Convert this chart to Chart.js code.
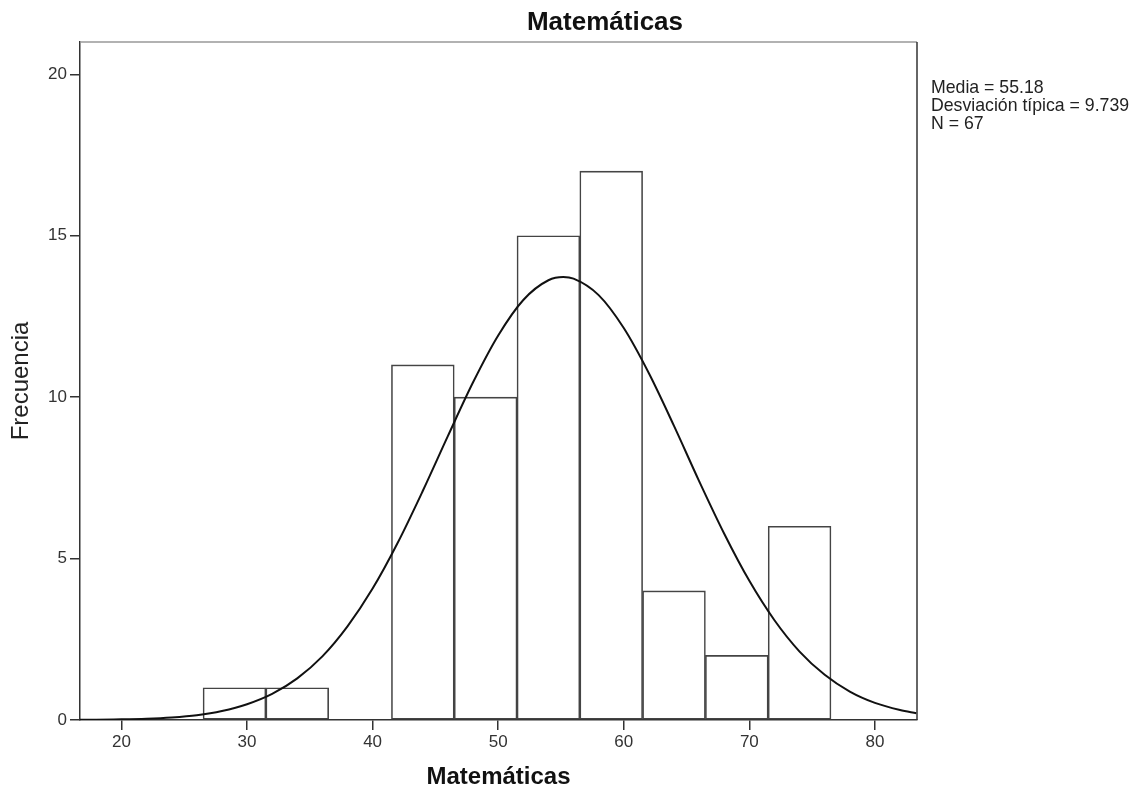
<!DOCTYPE html>
<html>
<head>
<meta charset="utf-8">
<script src="https://cdn.jsdelivr.net/npm/chart.js@4.4.0/dist/chart.umd.min.js"></script>
<style>
    body { margin: 0; background: #fff; }
    #wrap { width: 1138px; height: 795px; position: relative; }
</style>
</head>
<body>
<div id="wrap"><canvas id="histChart"></canvas></div>
<script>
// Histogram bins (centre of each 5-point bin) and their counts
const binCenters = [29, 34, 44, 49, 54, 59, 64, 69, 74];
const binCounts = [1, 1, 11, 10, 15, 17, 4, 2, 6];

// Normal curve
const curveX = [16.7, 18, 20, 22, 24, 26, 28, 30, 32, 34, 36, 38, 40, 42, 44, 46, 48, 50, 52, 54, 55.18, 56, 58, 60, 62, 64, 66, 68, 70, 72, 74, 76, 78, 80, 82, 83.3];
const curveY = [0.01, 0.01, 0.02, 0.04, 0.08, 0.15, 0.28, 0.49, 0.81, 1.29, 1.97, 2.90, 4.07, 5.49, 7.10, 8.80, 10.46, 11.91, 13.01, 13.62, 13.72, 13.67, 13.16, 12.14, 10.74, 9.11, 7.40, 5.77, 4.31, 3.09, 2.12, 1.40, 0.88, 0.53, 0.31, 0.21];

const xTicks = [20, 30, 40, 50, 60, 70, 80];
const yTicks = [0, 5, 10, 15, 20];

const chartTitle = 'Matemáticas';
const statsLines = ['Media = 55.18', 'Desviación típica = 9.739', 'N = 67'];

const fontFamily = "Arial, 'Liberation Sans', sans-serif";
const axisColor = '#333';

const frameAndText = {
    id: 'frameAndText',
    afterDraw(chart) {
        const ctx = chart.ctx;
        const a = chart.chartArea;
        ctx.save();
        // top and right frame lines
        ctx.lineWidth = 1.5;
        ctx.strokeStyle = '#999';
        ctx.beginPath();
        ctx.moveTo(a.left, a.top);
        ctx.lineTo(a.right, a.top);
        ctx.stroke();
        ctx.strokeStyle = axisColor;
        ctx.beginPath();
        ctx.moveTo(a.right, a.top);
        ctx.lineTo(a.right, a.bottom);
        ctx.stroke();

        ctx.fillStyle = '#111';
        ctx.font = `bold 26px ${fontFamily}`;
        ctx.textAlign = 'center';
        ctx.textBaseline = 'alphabetic';
        ctx.fillText(chartTitle, 605, 30);

        ctx.fillStyle = '#222';
        ctx.font = `17.7px ${fontFamily}`;
        ctx.textAlign = 'left';
        statsLines.forEach((line, i) => {
            ctx.fillText(line, 931, 93 + i * 18);
        });
        ctx.restore();
    }
};

const histElement = document.getElementById('histChart').getContext('2d');
const histChart = new Chart(histElement, {
    type: 'bar',
    data: {
        datasets: [
            {
                type: 'line',
                label: 'Normal',
                data: curveX.map((x, i) => ({x: x, y: curveY[i]})),
                borderColor: '#111',
                borderWidth: 2,
                pointRadius: 0,
                cubicInterpolationMode: 'monotone',
                fill: false,
                order: 0,
            },
            {
                label: 'Frecuencia',
                data: binCenters.map((x, i) => ({x: x, y: binCounts[i]})),
                backgroundColor: '#fff',
                borderColor: '#444',
                borderWidth: 1.6,
                borderSkipped: false,
                barPercentage: 1,
                categoryPercentage: 1,
                order: 1,
            }
        ]
    },
    options: {
        responsive: true,
        maintainAspectRatio: false,
        animation: false,
        layout: {
            padding: {top: 42, right: 221, left: 0, bottom: 0}
        },
        scales: {
            x: {
                type: 'linear',
                min: 16.7,
                max: 83.35,
                offset: false,
                afterFit: (scale) => { scale.height = 75; },
                afterBuildTicks: (scale) => { scale.ticks = xTicks.map(v => ({value: v})); },
                ticks: {
                    includeBounds: false,
                    color: axisColor,
                    padding: 2,
                    font: {family: fontFamily, size: 17},
                },
                grid: {
                    offset: false,
                    drawOnChartArea: false,
                    tickLength: 10,
                    tickColor: axisColor,
                    lineWidth: 1.5,
                },
                border: {color: axisColor, width: 1.5},
                title: {
                    display: true,
                    text: 'Matemáticas',
                    color: '#111',
                    font: {family: fontFamily, size: 24, weight: 'bold'},
                    padding: {top: 0, bottom: 3},
                }
            },
            y: {
                min: 0,
                max: 21,
                afterFit: (scale) => { scale.width = 80; },
                afterBuildTicks: (scale) => { scale.ticks = yTicks.map(v => ({value: v})); },
                ticks: {
                    color: axisColor,
                    padding: 3,
                    font: {family: fontFamily, size: 17},
                },
                grid: {
                    drawOnChartArea: false,
                    tickLength: 10,
                    tickColor: axisColor,
                    lineWidth: 1.5,
                },
                border: {color: axisColor, width: 1.5},
                title: {
                    display: true,
                    text: 'Frecuencia',
                    color: '#222',
                    font: {family: fontFamily, size: 24},
                    padding: {top: 7, bottom: 0},
                }
            }
        },
        plugins: {
            legend: {display: false},
            tooltip: {enabled: false},
        }
    },
    plugins: [frameAndText]
});
</script>
</body>
</html>
